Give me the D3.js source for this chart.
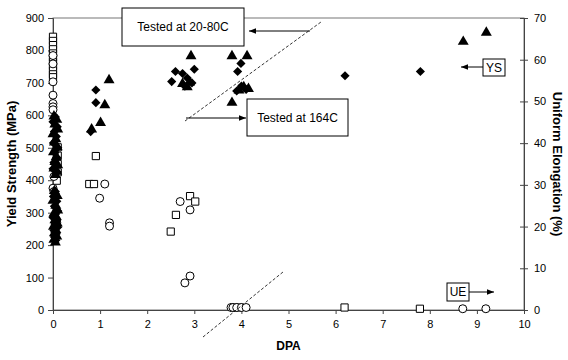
<!DOCTYPE html>
<html><head><meta charset="utf-8">
<script src="https://cdn.jsdelivr.net/npm/d3@7"></script>
<style>body{margin:0;background:#fff}svg{display:block}text{font-family:Arial,"Liberation Sans",sans-serif}</style>
</head><body>
<script>
// ---- data ----
const xTicks = [0,1,2,3,4,5,6,7,8,9,10];
const ysTicks = [0,100,200,300,400,500,600,700,800,900];
const ueTicks = [0,10,20,30,40,50,60,70];

// Yield strength, filled triangles [DPA, MPa]
const ysTriangles = [
 [0.02,600],[0.08,590],[0.04,575],[0.1,560],[0.0,545],[0.06,530],[0.03,520],[0.09,505],[0.01,490],[0.07,475],
 [0.04,460],[0.1,450],[0.02,440],[0.08,430],[0.05,420],[0.03,370],[0.09,355],[0.0,340],[0.06,325],[0.1,310],
 [0.02,300],[0.07,290],[0.04,280],[0.09,270],[0.01,260],[0.06,250],[0.03,240],[0.08,230],[0.02,220],[0.05,212],
 [0.82,560],[1.01,580],[1.1,635],[1.19,712],
 [2.93,786],[2.75,700],[2.9,705],[2.85,690],
 [3.8,786],[4.12,786],[3.8,642],[3.95,680],[4.05,690],[4.15,685],
 [8.71,830],[9.2,858]
];
// Yield strength, filled diamonds [DPA, MPa]
const ysDiamonds = [
 [0.05,595],[0.0,580],[0.09,565],[0.03,550],[0.07,535],[0.01,515],[0.1,500],[0.04,485],[0.08,470],[0.02,455],
 [0.06,445],[0.0,435],[0.09,425],[0.05,365],[0.01,350],[0.08,335],[0.03,320],[0.1,305],[0.05,295],[0.0,285],
 [0.08,275],[0.04,265],[0.1,255],[0.02,245],[0.07,235],[0.03,225],[0.06,215],
 [0.8,550],[0.91,639],[0.91,678],
 [2.52,704],[2.6,735],[2.75,729],[3.0,742],[2.8,690],[2.95,700],[2.85,715],
 [3.92,735],[3.99,760],[3.9,675],[4.0,690],[4.1,680],
 [6.2,722],[7.8,735]
];
// Uniform elongation, open squares [DPA, %]
const ueSquares = [
 [0.0,65.5],[0.0,64.5],[0.0,63.5],[0.0,62.5],[0.0,61.5],[0.0,60.5],[0.0,59.5],[0.0,58.5],[0.0,57.5],[0.0,56.5],[0.0,55.8],
 [0.1,39],[0.1,37],[0.1,35],[0.1,33],[0.08,31],
 [0.91,36.9],[0.77,30.2],[0.87,30.2],
 [2.91,27.3],[3.02,26.0],[2.61,22.8],[2.5,18.8],
 [3.85,0.6],[3.95,0.6],[6.19,0.6],[7.79,0.3]
];
// Uniform elongation, open circles [DPA, %]
const ueCircles = [
 [0.0,61],[0.0,59],[0.0,54.7],[0.0,51.5],[0.0,49.5],[0.0,48.7],[0.0,48],
 [0.02,32],[0.0,29.2],[0.02,28.4],[0.04,27.2],[0.08,20.9],
 [1.1,30.2],[0.99,26.8],[1.2,20.9],[1.2,20.1],
 [2.7,26.0],[2.91,24.0],[2.91,8.15],[2.8,6.5],
 [3.78,0.6],[3.82,0.6],[3.9,0.6],[4.0,0.6],[4.1,0.6],[8.7,0.3],[9.19,0.3]
];

// ---- layout ----
const W = 568, H = 360;
const L = 53, R = 524, T = 18, B = 310;
const svg = d3.select("body").append("svg").attr("width", W).attr("height", H);

const x = d3.scaleLinear().domain([0,10]).range([L,R]);
const yL = d3.scaleLinear().domain([0,900]).range([B,T]);
const yR = d3.scaleLinear().domain([0,70]).range([B,T]);

const axisCol = "#444";
svg.append("rect").attr("x",L).attr("y",T).attr("width",R-L).attr("height",B-T)
  .attr("fill","none").attr("stroke","#777").attr("stroke-width",1);

const gx = svg.append("g").attr("transform",`translate(0,${B})`)
  .call(d3.axisBottom(x).tickValues(xTicks).tickSize(4).tickPadding(6).tickFormat(d3.format("d")));
const gl = svg.append("g").attr("transform",`translate(${L},0)`)
  .call(d3.axisLeft(yL).tickValues(ysTicks).tickSize(5).tickPadding(4));
const gr = svg.append("g").attr("transform",`translate(${R},0)`)
  .call(d3.axisRight(yR).tickValues(ueTicks).tickSize(4).tickPadding(6));
gr.selectAll(".tick line").attr("x1",-4);
[gx,gl,gr].forEach(g=>{
  g.select(".domain").attr("stroke",axisCol);
  g.selectAll(".tick line").attr("stroke",axisCol);
  g.selectAll("text").attr("font-size",11).attr("fill","#000").attr("font-family","Arial, 'Liberation Sans', sans-serif");
});

svg.append("text").attr("x",(L+R)/2).attr("y",350).attr("text-anchor","middle")
  .attr("font-size",12).attr("font-weight","bold").text("DPA");
svg.append("text").attr("transform",`translate(16,${(T+B)/2}) rotate(-90)`).attr("text-anchor","middle")
  .attr("font-size",13).attr("font-weight","bold").text("Yield Strength (MPa)");
svg.append("text").attr("transform",`translate(553,${(T+B)/2}) rotate(90)`).attr("text-anchor","middle")
  .attr("font-size",13).attr("font-weight","bold").text("Uniform Elongation (%)");

// markers
const tri = d3.symbol().type(d3.symbolTriangle).size(52);
const dia = d3.symbol().type(d3.symbolSquare).size(42);
const sq = d3.symbol().type(d3.symbolSquare).size(52);

svg.append("g").selectAll("path").data(ueSquares).join("path")
  .attr("d",sq).attr("transform",d=>`translate(${x(d[0])},${yR(d[1])})`)
  .attr("fill","#fff").attr("stroke","#000").attr("stroke-width",1);
svg.append("g").selectAll("circle").data(ueCircles).join("circle")
  .attr("cx",d=>x(d[0])).attr("cy",d=>yR(d[1])).attr("r",4)
  .attr("fill","#fff").attr("stroke","#000").attr("stroke-width",1);
svg.append("g").selectAll("path").data(ysDiamonds).join("path")
  .attr("d",dia).attr("transform",d=>`translate(${x(d[0])},${yL(d[1])}) rotate(45)`).attr("fill","#000");
svg.append("g").selectAll("path").data(ysTriangles).join("path")
  .attr("d",tri).attr("transform",d=>`translate(${x(d[0])},${yL(d[1])+1})`).attr("fill","#000");

// annotations
const defs = svg.append("defs");
defs.append("marker").attr("id","ah").attr("viewBox","0 0 10 10").attr("refX",10).attr("refY",5)
  .attr("markerWidth",7).attr("markerHeight",7).attr("orient","auto-start-reverse")
  .append("path").attr("d","M0,1 L10,5 L0,9 Z").attr("fill","#000");

function box(x0,y0,w,h,label,fs){
  svg.append("rect").attr("x",x0).attr("y",y0).attr("width",w).attr("height",h)
    .attr("fill","#fff").attr("stroke","#000").attr("stroke-width",1);
  svg.append("text").attr("x",x0+w/2).attr("y",y0+h/2+fs*0.36).attr("text-anchor","middle")
    .attr("font-size",fs).text(label);
}
function arrow(x1,y1,x2,y2){
  svg.append("line").attr("x1",x1).attr("y1",y1).attr("x2",x2).attr("y2",y2)
    .attr("stroke","#000").attr("stroke-width",1).attr("marker-end","url(#ah)");
}
function dashed(x1,y1,x2,y2){
  svg.append("line").attr("x1",x1).attr("y1",y1).attr("x2",x2).attr("y2",y2)
    .attr("stroke","#000").attr("stroke-width",0.8).attr("stroke-dasharray","3,2");
}
dashed(185,121,321,22);
dashed(203,337,283,272);
box(122,8,122,38,"Tested at 20-80C",12);
arrow(310,31,249,31);
box(247,99,101,37,"Tested at 164C",12);
arrow(186,118,246,118);
box(483,59,22,17,"YS",12);
arrow(483,67,461,67);
box(447,283,22,18,"UE",12);
arrow(469,292,494,292);
</script>
</body></html>
